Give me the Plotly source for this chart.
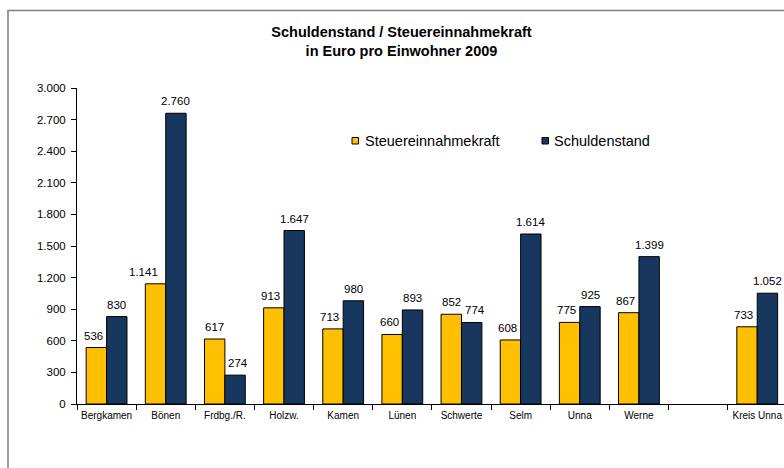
import plotly.graph_objects as go

# Gemeinden des Kreises Unna (leere Kategorie als Abstand vor dem Kreiswert)
gemeinden = ["Bergkamen", "Bönen", "Frdbg./R.", "Holzw.", "Kamen", "Lünen",
             "Schwerte", "Selm", "Unna", "Werne", " ", "Kreis Unna"]
steuerkraft = [536, 1141, 617, 913, 713, 660, 852, 608, 775, 867, None, 733]
schulden = [830, 2760, 274, 1647, 980, 893, 774, 1614, 925, 1399, None, 1052]
y_ticks = [0, 300, 600, 900, 1200, 1500, 1800, 2100, 2400, 2700, 3000]

serien = [
    ("Steuereinnahmekraft", steuerkraft, "#FFC000"),
    ("Schuldenstand", schulden, "#17375E"),
]

FONT = "Liberation Sans, Arial, sans-serif"
W, H = 784, 468
ML, MR, MT, MB = 77, 0, 88, 64
PW, PH = W - ML - MR, H - MT - MB
KAT_BREITE = 59.15  # Pixel je Kategorie


def px_x(px):
    return (px - ML) / PW


def px_y(py):
    return (H - MB - py) / PH


def fmt(v):
    return f"{v:,}".replace(",", ".")


fig = go.Figure()
for name, werte, farbe in serien:
    fig.add_trace(go.Bar(
        x=gemeinden, y=werte, name=name,
        marker=dict(color=farbe, line=dict(color="#000000", width=1)),
        showlegend=False,
    ))

# Datenbeschriftungen über den Säulen
annotations = []
versatz = [-0.173, 0.173]
for i in range(len(gemeinden)):
    a, b = steuerkraft[i], schulden[i]
    if a is None:
        continue
    for k, (name, werte, farbe) in enumerate(serien):
        v = werte[i]
        anderer = b if k == 0 else a
        txt = fmt(v)
        shift = 0
        if v < anderer:
            weg = 12 if len(txt) > 4 else 3
            shift = -weg if k == 0 else weg
        annotations.append(dict(
            x=i + versatz[k], y=v, xref="x", yref="y", text=txt,
            showarrow=False, yanchor="bottom", xanchor="center",
            yshift=4, xshift=shift,
            font=dict(family=FONT, size=11.5, color="#000000"),
        ))

# Legende
leg_pos = [(352, 363), (542, 552)]
for (sx, tx), (name, werte, farbe) in zip(leg_pos, serien):
    fig.add_shape(type="rect", xref="paper", yref="paper",
                  x0=px_x(sx), x1=px_x(sx + 6.5), y0=px_y(137.5), y1=px_y(144),
                  fillcolor=farbe, line=dict(color="#000000", width=1))
    annotations.append(dict(
        x=px_x(tx), y=px_y(140.8), xref="paper", yref="paper", text=name,
        showarrow=False, xanchor="left", yanchor="middle",
        font=dict(family=FONT, size=14.5, color="#000000"),
    ))

# Rahmen des Diagrammbereichs
fig.add_shape(type="rect", xref="paper", yref="paper",
              x0=px_x(8), x1=px_x(W + 40), y0=px_y(H + 40), y1=px_y(10.5),
              line=dict(color="#7f7f7f", width=1.5), fillcolor="rgba(0,0,0,0)",
              layer="below")

fig.update_layout(
    width=W, height=H,
    margin=dict(l=ML, r=MR, t=MT, b=MB, pad=0, autoexpand=False),
    paper_bgcolor="#ffffff", plot_bgcolor="#ffffff",
    separators=",.",
    barmode="group", bargap=0.31, bargroupgap=0,
    font=dict(family=FONT, color="#000000"),
    title=dict(
        text="<b>Schuldenstand / Steuereinnahmekraft<br>in Euro pro Einwohner 2009</b>",
        x=px_x(401.5), xref="paper", xanchor="center",
        y=1 - 37 / H, yref="container", yanchor="top",
        font=dict(family=FONT, size=14.5, color="#000000"),
        automargin=False,
    ),
    annotations=annotations,
    xaxis=dict(
        range=[-0.5, -0.5 + PW / KAT_BREITE],
        showline=True, linecolor="#000000", linewidth=1,
        ticks="outside", tickson="boundaries", ticklen=5, tickcolor="#000000",
        showgrid=False, zeroline=False, tickangle=0, automargin=False,
        tickfont=dict(family=FONT, size=10, color="#000000"),
        ticklabelstandoff=2,
    ),
    yaxis=dict(
        range=[0, 3000], tickvals=y_ticks, tickformat=",d",
        showline=True, linecolor="#000000", linewidth=1,
        ticks="outside", ticklen=5, tickcolor="#000000",
        showgrid=False, zeroline=False, automargin=False,
        tickfont=dict(family=FONT, size=11.5, color="#000000"),
        ticklabelstandoff=3,
    ),
)

fig.write_html("out.html")
